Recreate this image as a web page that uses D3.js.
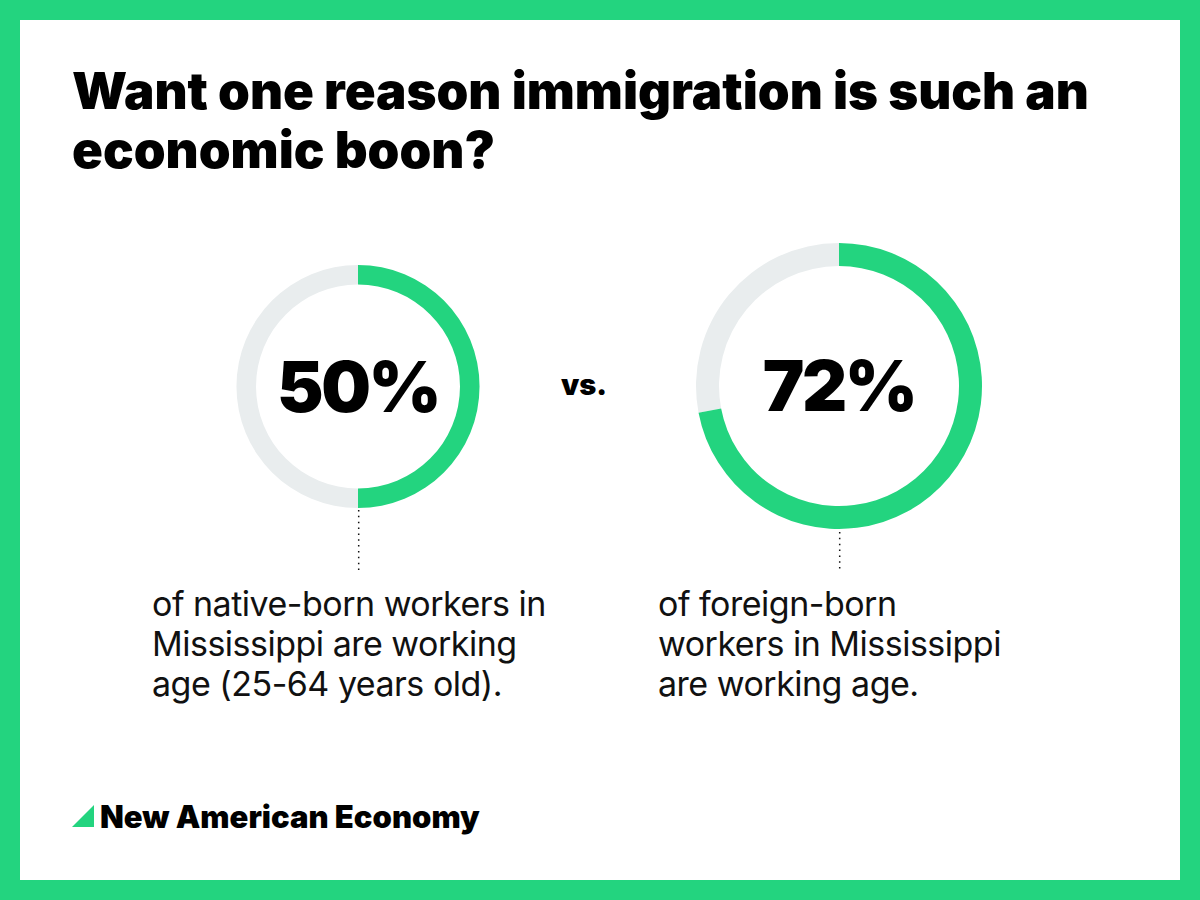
<!DOCTYPE html>
<html><head><meta charset="utf-8">
<script src="https://cdn.jsdelivr.net/npm/d3@7"></script>
<style>html,body{margin:0;padding:0;background:#fff}svg{display:block}</style>
</head><body><svg id="c" width="1200" height="900"></svg>
<script>
const titleLines = ["Want one reason immigration is such an", "economic boon?"];
const shares = [50, 72];
const centerLabels = ["50%", "72%"];
const captions = [
  ["of native-born workers in", "Mississippi are working", "age (25-64 years old)."],
  ["of foreign-born", "workers in Mississippi", "are working age."]
];
const versus = "vs.";
const brand = "New American Economy";

const GREEN = "#23d47f", GREY = "#e9edee", FONT = "Inter, 'Liberation Sans', sans-serif";
const svg = d3.select("#c");
svg.append("rect").attr("x",10).attr("y",10).attr("width",1180).attr("height",880)
  .attr("fill","#fff").attr("stroke",GREEN).attr("stroke-width",20);

svg.append("g").selectAll("text").data(titleLines).join("text")
  .attr("x",72).attr("y",(d,i)=>109+i*59).attr("font-family",FONT).attr("font-weight",900)
  .attr("font-size",51).attr("letter-spacing",0).attr("fill","#000").text(d=>d);

const layout = [
  {cx:358, cy:386.5, ro:121.5, ri:102, fs:70, capX:152, lineTop:510},
  {cx:839, cy:386, ro:143, ri:120, fs:70, capX:658, lineTop:532}
];
const angle = d3.scaleLinear().domain([0,100]).range([0,2*Math.PI]);
shares.forEach((v,i)=>{
  const L = layout[i];
  const g = svg.append("g").attr("transform",`translate(${L.cx},${L.cy})`);
  const arc = d3.arc().innerRadius(L.ri).outerRadius(L.ro);
  g.append("path").attr("d",arc({startAngle:angle(v),endAngle:angle(100)})).attr("fill",GREY);
  g.append("path").attr("d",arc({startAngle:0,endAngle:angle(v)})).attr("fill",GREEN);
  g.append("text").attr("text-anchor","middle").attr("y",25).attr("font-family",FONT)
    .attr("font-weight",900).attr("font-size",L.fs).attr("letter-spacing",-2.5).attr("fill","#000").text(centerLabels[i]);
  svg.append("line").attr("x1",L.cx+0.7).attr("x2",L.cx+0.7).attr("y1",L.lineTop).attr("y2",571)
    .attr("stroke","#111").attr("stroke-width",1.5).attr("stroke-dasharray","1.5 4.35");
  svg.append("g").selectAll("text").data(captions[i]).join("text")
    .attr("x",L.capX).attr("y",(d,k)=>616+k*40).attr("font-family",FONT).attr("font-size",34)
    .attr("letter-spacing",-0.5).attr("fill","#111").text(d=>d);
});
svg.append("text").attr("x",584).attr("y",395).attr("text-anchor","middle").attr("font-family",FONT)
  .attr("font-weight",900).attr("font-size",29).attr("fill","#000").text(versus);
svg.append("path").attr("d",d3.line()([[72,827],[94,827],[94,805]])+"Z").attr("fill",GREEN);
svg.append("text").attr("x",100).attr("y",828).attr("font-family",FONT).attr("font-weight",900)
  .attr("font-size",31).attr("letter-spacing",0).attr("fill","#000").text(brand);
</script></body></html>
